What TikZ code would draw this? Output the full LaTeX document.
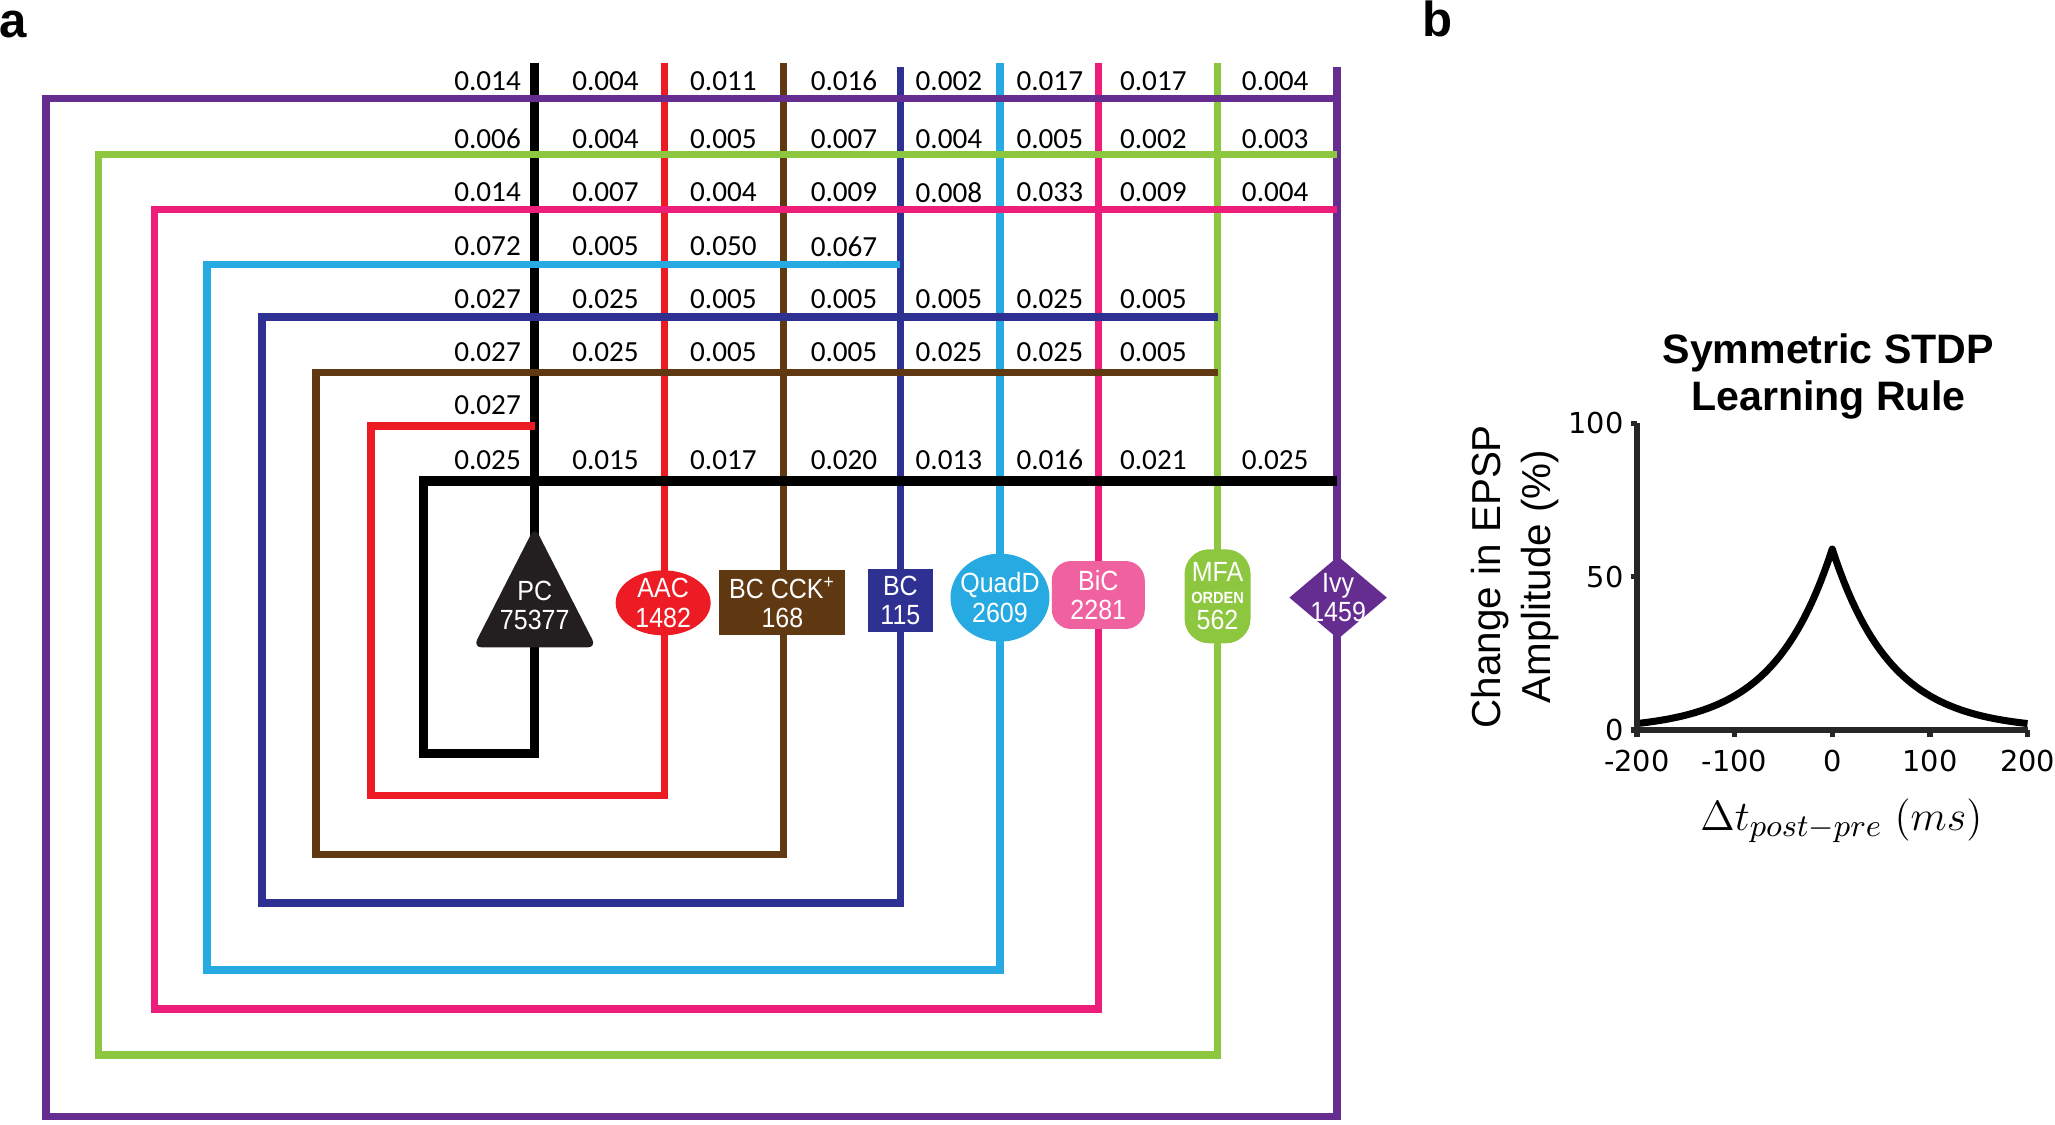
\documentclass[tikz,border=0pt]{standalone}
\usepackage[no-math]{fontspec}
\setmainfont{Liberation Sans}
\newfontfamily\wtfont{Carlito}
\newfontfamily\tickfont{DejaVu Sans}
\newfontfamily\cellfont[FakeStretch=0.9]{Liberation Sans}
\usepackage{tikz}
\usetikzlibrary{shapes.geometric}

\definecolor{pcC}{HTML}{231F20}
\definecolor{aacC}{HTML}{ED1C24}
\definecolor{cckC}{HTML}{603913}
\definecolor{bcC}{HTML}{2E3192}
\definecolor{quadC}{HTML}{27AAE1}
\definecolor{bicC}{HTML}{EC1E79}
\definecolor{bicFill}{HTML}{F0629F}
\definecolor{mfaC}{HTML}{8DC63F}
\definecolor{ivyC}{HTML}{662D91}

\begin{document}
\begin{tikzpicture}[
    x=0.013106cm, y=-0.013106cm,
    wt/.style={inner sep=0pt, font=\wtfont\fontsize{8.3}{9}\selectfont},
    cell/.style={inner sep=0pt, text=white, align=center, font=\cellfont\fontsize{7.9}{8.3}\selectfont},
    axis/.style={line width=1.5pt, draw=black!85},
    tick/.style={inner sep=0pt, font=\tickfont\fontsize{8.2}{9}\selectfont},
    panel/.style={inner sep=0pt, font=\bfseries\fontsize{14}{16}\selectfont},
]
    \useasboundingbox (0,0) rectangle (1568,858);

    \foreach \n/\xv/\yt/\yh/\yb/\xl/\xe/\c/\w in {
        pc/408/48/367/575/323/1020/black/2.6pt,
        aac/507/48/325/607/283/408/aacC/2.1pt,
        cck/598/48/284/652/241/929/cckC/2.1pt,
        bc/687/51/242/689/200/929/bcC/2.1pt,
        quad/763/48/202/740/158/687/quadC/2.1pt,
        bic/838/48/160/770/118/1020/bicC/2.1pt,
        mfa/929/48/118/805/75/1020/mfaC/2.1pt,
        ivy/1020/51/75/852/35/1020/ivyC/2.1pt}
    {
        \coordinate (\n Top) at (\xv,\yt);
        \coordinate (\n Corner) at (\xl,\yb);
        \coordinate (\n End) at (\xe,\yh);
        \draw[\c, line width=\w] (\n Top) -- (\n Top |- \n Corner) -- (\n Corner) -- (\n Corner |- \n End) -- (\n End);
    }
    \foreach \n/\c/\w in {pc/black/2.6pt, aac/aacC/2.1pt, cck/cckC/2.1pt, bc/bcC/2.1pt,
        quad/quadC/2.1pt, bic/bicC/2.1pt, mfa/mfaC/2.1pt, ivy/ivyC/2.1pt}
        \draw[\c, line width=\w] (\n Corner |- \n End) -- (\n End);

    \foreach \yr/\vals [count=\r] in {
        62/{0.014,0.004,0.011,0.016,0.002,0.017,0.017,0.004},
        106/{0.006,0.004,0.005,0.007,0.004,0.005,0.002,0.003},
        147/{0.014,0.007,0.004,0.009,0.008,0.033,0.009,0.004},
        188/{0.072,0.005,0.050,0.067},
        228/{0.027,0.025,0.005,0.005,0.005,0.025,0.005},
        269/{0.027,0.025,0.005,0.005,0.025,0.025,0.005},
        309/{0.027},
        351/{0.025,0.015,0.017,0.020,0.013,0.016,0.021,0.025}}
        \foreach \v [count=\c] in \vals {
            \pgfmathsetmacro\xc{{372,462,552,644,724,801,880,973}[\c-1]}
            \node[wt] (w\r-\c) at (\xc,\yr) {\v};
        }

    \fill[pcC, rounded corners=2.5pt] (408,402) -- (455,494) -- (361,494) -- cycle;
    \node[cell] (pc) at (408,462) {PC\\75377};
    \node[cell, ellipse, inner sep=-6pt, fill=aacC, minimum width=0.95cm, minimum height=0.65cm] (aac) at (506,460) {AAC\\1482};
    \node[cell, fill=cckC, minimum width=1.26cm, minimum height=0.65cm] (cck) at (597,460) {BC CCK\textsuperscript{+}\\168};
    \node[cell, fill=bcC, minimum width=0.65cm, minimum height=0.63cm] (bc) at (687,458) {BC\\115};
    \node[cell, ellipse, inner sep=-6pt, fill=quadC, minimum width=0.99cm, minimum height=0.88cm] (quad) at (763,456) {QuadD\\2609};
    \node[cell, fill=bicFill, rounded corners=5.5pt, minimum width=0.93cm, minimum height=0.68cm] (bic) at (838,454) {BiC\\2281};
    \node[cell, fill=mfaC, rounded corners=7pt, minimum width=0.66cm, minimum height=0.94cm] (mfa) at (929,455) {MFA\\[-2pt]{\fontsize{4.6}{5}\selectfont\bfseries ORDEN}\\[-1pt]562};
    \node[cell, diamond, inner sep=-5pt, fill=ivyC, minimum width=0.98cm, minimum height=0.83cm] (ivy) at (1021,456) {Ivy\\1459};

    \node[panel, anchor=base west] (labA) at (-1,29) {a};
    \node[panel, anchor=base west] (labB) at (1085,28) {b};

    \coordinate (org) at (1249,557);
    \begin{scope}[shift={(org)}, x=0.009764cm, y=0.03067cm]
        \draw[black, line width=2pt, line join=round] plot[domain=0:200, samples=50] (\x,{59*exp((\x-200)/60)}) -- plot[domain=200:400, samples=50] (\x,{59*exp((200-\x)/60)});
        \draw[axis] (0,100) -- (0,0) -- (400,0);
        \foreach \t/\lab in {0/-200,100/-100,200/0,300/100,400/200} {
            \draw[axis] (\t,0) -- (\t,-2.3);
            \node[tick, anchor=north] (xt\t) at (\t,-6.3) {\lab};
        }
        \foreach \v in {0,50,100} {
            \draw[axis] (0,\v) -- (-6,\v);
            \node[tick, anchor=east] (yt\v) at (-13,\v) {\v};
        }
    \end{scope}

    \node[align=center, inner sep=0pt, font=\bfseries\fontsize{11.7}{13.4}\selectfont] (title) at (1395,287) {Symmetric STDP\\Learning Rule};
    \node[rotate=90, align=center, inner sep=0pt, font=\fontsize{11.5}{14.2}\selectfont] (ylab) at (1156,440) {Change in EPSP\\Amplitude (\%)};
    \node[inner sep=0pt, font=\fontsize{12.2}{14}\selectfont] (xlab) at (1405,626) {$\Delta t_{post-pre}\ (ms)$};
\end{tikzpicture}
\end{document}
